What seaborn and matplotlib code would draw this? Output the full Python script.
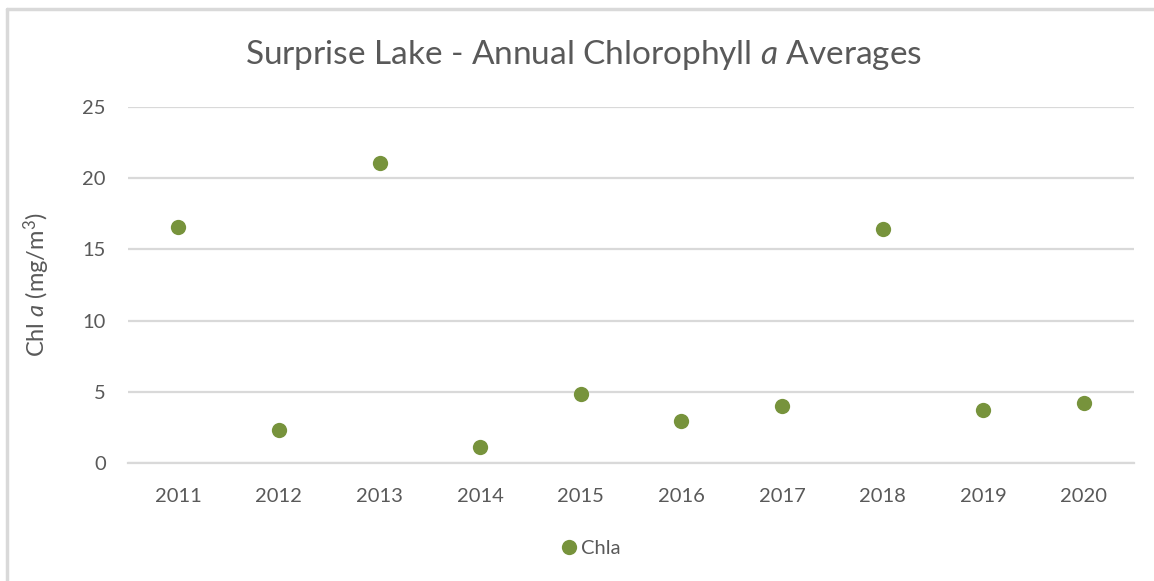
import matplotlib
matplotlib.use("Agg")
import matplotlib.pyplot as plt
import matplotlib.lines as mlines
import seaborn as sns
import pandas as pd

# Annual chlorophyll a averages
years = ["2011", "2012", "2013", "2014", "2015", "2016", "2017", "2018", "2019", "2020"]
chla = [16.6, 2.34, 21.05, 1.12, 4.85, 2.95, 4.0, 16.4, 3.75, 4.2]
y_ticks = [0, 5, 10, 15, 20, 25]

df = pd.DataFrame({"Year": years, "Chla": chla})

sns.set_theme(style="white")
plt.rcParams["font.family"] = ["Lato", "DejaVu Sans"]
plt.rcParams["mathtext.fontset"] = "custom"
plt.rcParams["mathtext.rm"] = "Lato"
plt.rcParams["mathtext.it"] = "Lato:italic"

text_gray = "#595959"
grid_gray = "#D9D9D9"
green = "#77933C"

fig = plt.figure(figsize=(11.54, 5.81), dpi=100)
ax = fig.add_axes([128 / 1154, 1 - 463 / 581, (1134 - 128) / 1154, (463 - 107) / 581])

sns.stripplot(data=df, x="Year", y="Chla", jitter=False, color=green,
              size=11, linewidth=0, ax=ax, zorder=3)

ax.set_xlim(-0.5, len(years) - 0.5)
ax.set_ylim(0, 25)
ax.set_yticks(y_ticks)
ax.yaxis.grid(True, color=grid_gray, linewidth=1.6)
ax.set_axisbelow(True)
for side in ["top", "right", "left"]:
    ax.spines[side].set_visible(False)
ax.spines["bottom"].set_color(grid_gray)
ax.spines["bottom"].set_linewidth(1.6)
ax.tick_params(axis="both", length=0, labelsize=14.5, labelcolor=text_gray)
ax.tick_params(axis="x", pad=18)
ax.tick_params(axis="y", pad=16)

ax.set_xlabel("")
ax.set_ylabel("Chl $\\mathit{a}$ (mg/m$^3$)", fontsize=17, color=text_gray, labelpad=22)

fig.text(0.506, 1 - 55 / 581, "Surprise Lake - Annual Chlorophyll $\\mathit{a}$ Averages",
         ha="center", va="center", fontsize=24, color=text_gray)

handle = mlines.Line2D([], [], linestyle="none", marker="o", markersize=11,
                       markerfacecolor=green, markeredgewidth=0)
fig.legend([handle], ["Chla"], loc="center", bbox_to_anchor=(590 / 1154, 1 - 548 / 581),
           frameon=False, fontsize=14.5, labelcolor=text_gray, handletextpad=0.1,
           handlelength=1.0)

# outer chart border (top and left visible in the crop)
fig.add_artist(mlines.Line2D([7 / 1154, 1], [1 - 9 / 581, 1 - 9 / 581],
                             color=grid_gray, linewidth=2.5, transform=fig.transFigure))
fig.add_artist(mlines.Line2D([7 / 1154, 7 / 1154], [0, 1 - 9 / 581],
                             color=grid_gray, linewidth=2.5, transform=fig.transFigure))

fig.savefig("out.png", dpi=100, facecolor="white")
